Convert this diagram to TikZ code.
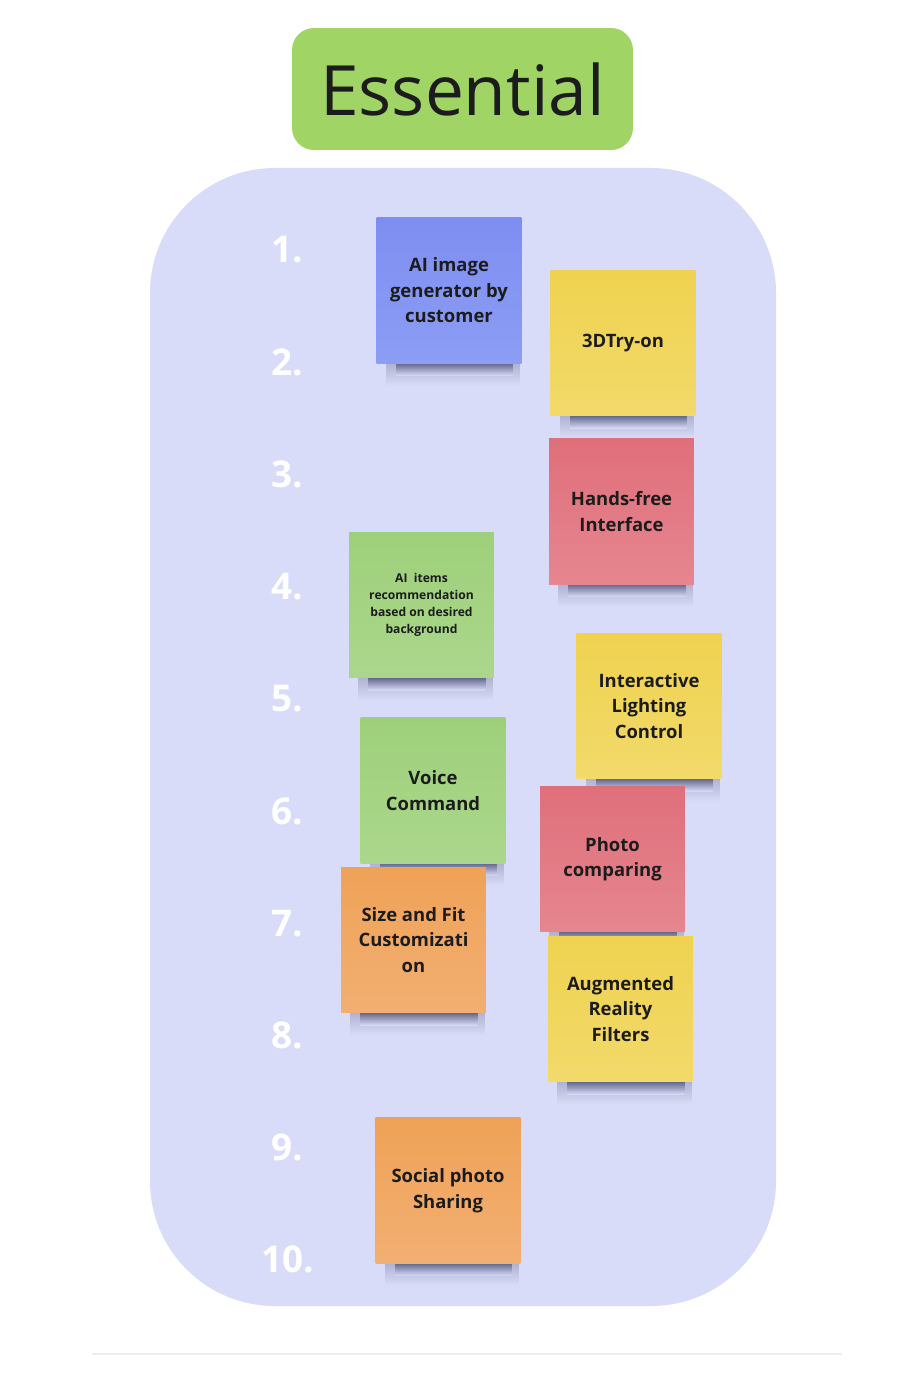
\documentclass[tikz,border=0pt]{standalone}
\usepackage{fontspec}
\setmainfont{Open Sans}
\usetikzlibrary{backgrounds,calc}

\definecolor{titlegreen}{HTML}{A0D464}
\definecolor{panelbg}{HTML}{D9DCF8}
\definecolor{shadowc}{HTML}{5E6388}
\definecolor{blueA}{HTML}{7D8EF1}
\definecolor{blueB}{HTML}{8C9DF5}
\definecolor{yellowA}{HTML}{EFD24F}
\definecolor{yellowB}{HTML}{F2DA6B}
\definecolor{redA}{HTML}{DF6F7B}
\definecolor{redB}{HTML}{E6868F}
\definecolor{greenA}{HTML}{9ED07A}
\definecolor{greenB}{HTML}{ABD78C}
\definecolor{orangeA}{HTML}{EFA257}
\definecolor{orangeB}{HTML}{F2AF72}
\definecolor{inkc}{HTML}{1C1C1C}
\definecolor{rulec}{HTML}{EEEEEE}

\begin{document}
\begin{tikzpicture}[x=0.02cm,y=-0.02cm,
  sticky/.style={minimum width=2.9cm,minimum height=2.92cm,inner sep=2pt,align=center,
    text=inkc,font=\fontsize{10.5}{14.5}\selectfont\bfseries},
  stickysmall/.style={sticky,font=\fontsize{6.9}{9.7}\selectfont\bfseries},
  bluenote/.style={top color=blueA,bottom color=blueB},
  yellownote/.style={top color=yellowA,bottom color=yellowB},
  rednote/.style={top color=redA,bottom color=redB},
  greennote/.style={top color=greenA,bottom color=greenB},
  orangenote/.style={top color=orangeA,bottom color=orangeB},
  rank/.style={text=white,font=\fontsize{21}{24}\selectfont\bfseries}]
  \useasboundingbox (0,0) rectangle (900,1388);

  % Page and list panel
  \begin{scope}[on background layer]
    \fill[white] (0,0) rectangle (900,1388);
    \fill[panelbg,rounded corners=2.5cm] (150,168) rectangle (776,1306);
  \end{scope}

  % Title
  \node[fill=titlegreen,rounded corners=0.44cm,minimum width=6.82cm,minimum height=2.44cm,
    font=\fontsize{39.5}{44}\selectfont,text=inkc] (title) at (462.5,89) {Essential};

  % Rank numbers
  \foreach \i in {1,...,10}
    \node[rank] (rank\i) at (287.5,{250+112.2*(\i-1)}) {\i.};

  % Sticky notes
  \node[sticky,bluenote] (note1) at (449,290.5) {AI image\\generator by\\customer};
  \node[sticky,yellownote] (note2) at (623,343) {3DTry-on};
  \node[sticky,rednote] (note3) at (621.5,511.5) {Hands-free\\Interface};
  \node[stickysmall,greennote] (note4) at (421.5,605) {AI\ \ items\\recommendation\\based on desired\\background};
  \node[sticky,yellownote] (note5) at (649,706) {Interactive\\Lighting\\Control};
  \node[sticky,greennote] (note6) at (433,790.5) {Voice\\Command};
  \node[sticky,rednote] (note7) at (612.5,859) {Photo\\comparing};
  \node[sticky,orangenote] (note8) at (413.5,940) {Size and Fit\\Customizati\\on};
  \node[sticky,yellownote] (note9) at (620.5,1009) {Augmented\\Reality\\Filters};
  \node[sticky,orangenote] (note10) at (448,1190.5) {Social photo\\Sharing};

  % Shadows under the notes
  \begin{scope}[on background layer]
    \foreach \n in {note1,note2,note3,note4,note5,note6,note7,note8,note9,note10} {
      \shade[top color=shadowc!35!panelbg,bottom color=panelbg]
        ($(\n.south west)+(10,-1)$) rectangle ($(\n.south east)+(-2,22)$);
      \shade[top color=shadowc,bottom color=panelbg]
        ($(\n.south west)+(20,-1)$) rectangle ($(\n.south east)+(-9,12)$);
    }
  \end{scope}

  % Faint rule at the foot
  \draw[rulec,line width=0.03cm] (92,1354) -- (842,1354);
\end{tikzpicture}
\end{document}
